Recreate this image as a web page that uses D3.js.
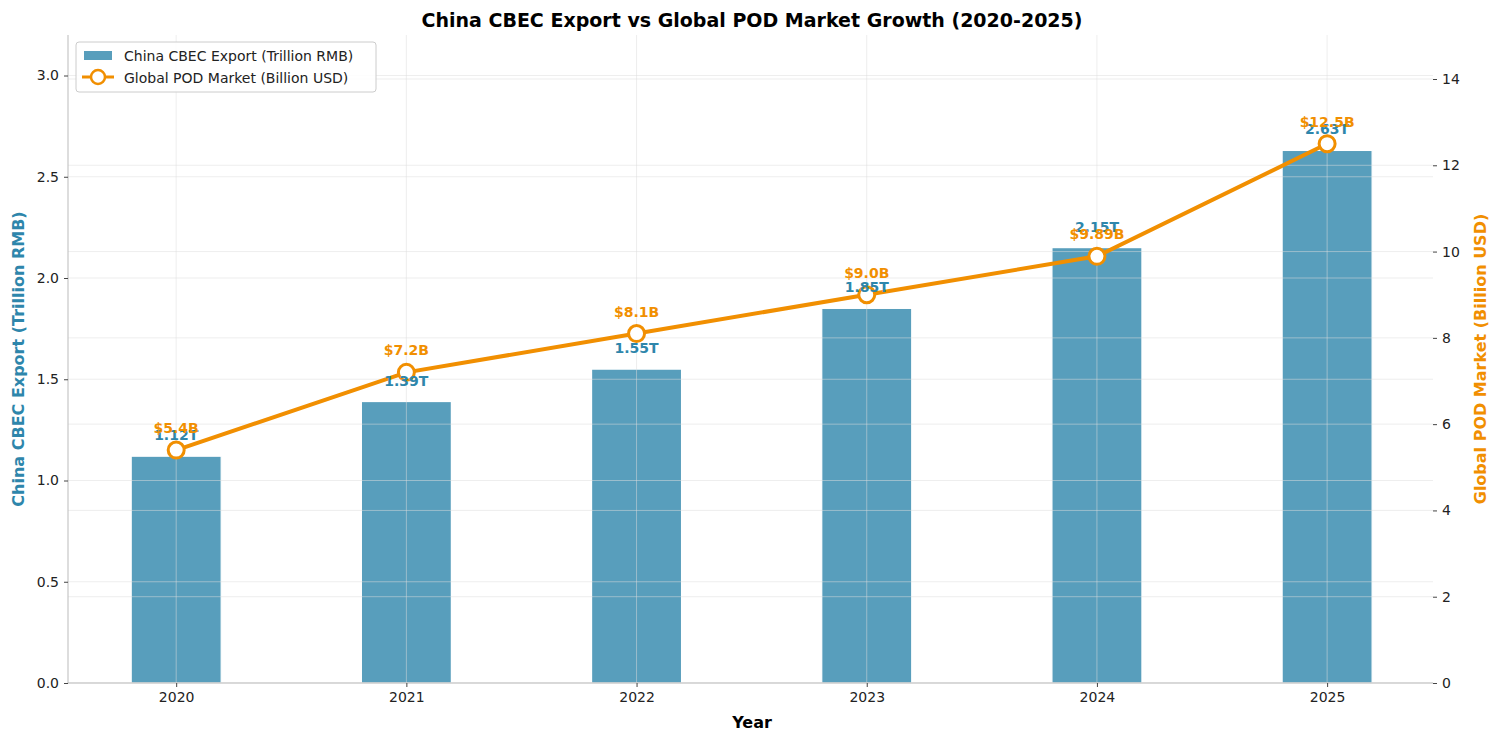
<!DOCTYPE html>
<html><head><meta charset="utf-8">
<script src="https://cdn.jsdelivr.net/npm/d3@7"></script>
<style>body{margin:0;background:#fff;font-family:"DejaVu Sans",sans-serif}
.tick text{font-size:14px;font-family:"DejaVu Sans",sans-serif;fill:#222}</style>
</head><body><svg id="c" width="1500" height="742"></svg>
<script>
// data
const years = ["2020", "2021", "2022", "2023", "2024", "2025"];
const exportVals = [1.12, 1.39, 1.55, 1.85, 2.15, 2.63];
const podVals = [5.4, 7.2, 8.1, 9.0, 9.89, 12.5];
const leftTicks = [0, 0.5, 1.0, 1.5, 2.0, 2.5, 3.0];
const rightTicks = [0, 2, 4, 6, 8, 10, 12, 14];

const blue = "#2e86ab", orange = "#f18f01";
const L = 68, R = 1433, T = 35, B = 683;
const svg = d3.select("#c");

const x = d3.scaleLinear().domain([-0.47, 5.46]).range([L, R]);
const y = d3.scaleLinear().domain([0, 3.2]).range([B, T]);
const y2 = d3.scaleLinear().domain([0, 15.02]).range([B, T]);

// bars
svg.append("g").selectAll("rect").data(exportVals).join("rect")
    .attr("x", (d, i) => x(i) - 45).attr("width", 90)
    .attr("y", d => y(d)).attr("height", d => B - y(d))
    .attr("fill", blue).attr("fill-opacity", 0.8)
    .attr("stroke", "#fff").attr("stroke-width", 1.2);

// grids (drawn over bars, as in the reference)
const grid = svg.append("g").attr("stroke", "#ddd").attr("stroke-opacity", 0.5);
leftTicks.forEach(t => grid.append("line").attr("x1", L).attr("x2", R).attr("y1", y(t)).attr("y2", y(t)));
rightTicks.slice(1).forEach(t => grid.append("line").attr("x1", L).attr("x2", R).attr("y1", y2(t)).attr("y2", y2(t)));
years.forEach((d, i) => grid.append("line").attr("x1", x(i)).attr("x2", x(i)).attr("y1", T).attr("y2", B));

// spines
svg.append("line").attr("x1", L).attr("x2", L).attr("y1", T).attr("y2", B).attr("stroke", "#bbb");
svg.append("line").attr("x1", L).attr("x2", R).attr("y1", B).attr("y2", B).attr("stroke", "#bbb");

// axes
const ax = svg.append("g").attr("transform", `translate(0,${B})`)
    .call(d3.axisBottom(x).tickValues(d3.range(6)).tickFormat(i => years[i]).tickSize(4).tickPadding(5));
const ay = svg.append("g").attr("transform", `translate(${L},0)`)
    .call(d3.axisLeft(y).tickValues(leftTicks).tickFormat(d3.format(".1f")).tickSize(4).tickPadding(5));
const ay2 = svg.append("g").attr("transform", `translate(${R},0)`)
    .call(d3.axisRight(y2).tickValues(rightTicks).tickSize(4).tickPadding(5));
[ax, ay, ay2].forEach(a => {
    a.select(".domain").remove();
    a.selectAll(".tick line").attr("stroke", "#444");
});

// line
svg.append("path").datum(podVals)
    .attr("d", d3.line().x((d, i) => x(i)).y(d => y2(d)))
    .attr("fill", "none").attr("stroke", orange).attr("stroke-width", 4);
svg.append("g").selectAll("circle").data(podVals).join("circle")
    .attr("cx", (d, i) => x(i)).attr("cy", d => y2(d)).attr("r", 8)
    .attr("fill", "#fff").attr("stroke", orange).attr("stroke-width", 3);

// value labels
svg.append("g").selectAll("text").data(exportVals).join("text")
    .attr("x", (d, i) => x(i)).attr("y", d => y(d) - 16)
    .attr("text-anchor", "middle").attr("font-size", 14).attr("font-weight", "bold")
    .attr("fill", blue).text(d => d.toFixed(2) + "T");
svg.append("g").selectAll("text").data(podVals).join("text")
    .attr("x", (d, i) => x(i)).attr("y", d => y2(d) - 17)
    .attr("text-anchor", "middle").attr("font-size", 14).attr("font-weight", "bold")
    .attr("fill", orange).text(d => "$" + (Number.isInteger(d * 10) ? d.toFixed(1) : d.toFixed(2)) + "B");

// titles
svg.append("text").attr("x", 752).attr("y", 27).attr("text-anchor", "middle")
    .attr("font-size", 19).attr("font-weight", "bold").text("China CBEC Export vs Global POD Market Growth (2020-2025)");
svg.append("text").attr("x", 752).attr("y", 728).attr("text-anchor", "middle")
    .attr("font-size", 16).attr("font-weight", "bold").text("Year");
svg.append("text").attr("transform", `translate(24,${(T + B) / 2}) rotate(-90)`).attr("text-anchor", "middle")
    .attr("font-size", 16).attr("font-weight", "bold").attr("fill", blue).text("China CBEC Export (Trillion RMB)");
svg.append("text").attr("transform", `translate(1486,${(T + B) / 2}) rotate(-90)`).attr("text-anchor", "middle")
    .attr("font-size", 16).attr("font-weight", "bold").attr("fill", orange).text("Global POD Market (Billion USD)");

// legend
const lg = svg.append("g").attr("transform", "translate(76,42)");
lg.append("rect").attr("width", 300).attr("height", 50).attr("rx", 3)
    .attr("fill", "#fff").attr("fill-opacity", 0.85).attr("stroke", "#ccc");
lg.append("rect").attr("x", 8).attr("y", 9).attr("width", 28).attr("height", 9).attr("fill", blue).attr("fill-opacity", 0.8);
lg.append("line").attr("x1", 6).attr("x2", 38).attr("y1", 35).attr("y2", 35).attr("stroke", orange).attr("stroke-width", 3);
lg.append("circle").attr("cx", 22).attr("cy", 35).attr("r", 7).attr("fill", "#fff").attr("stroke", orange).attr("stroke-width", 2.5);
lg.append("text").attr("x", 48).attr("y", 19).attr("font-size", 14).attr("fill", "#222").text("China CBEC Export (Trillion RMB)");
lg.append("text").attr("x", 48).attr("y", 41).attr("font-size", 14).attr("fill", "#222").text("Global POD Market (Billion USD)");
</script></body></html>
